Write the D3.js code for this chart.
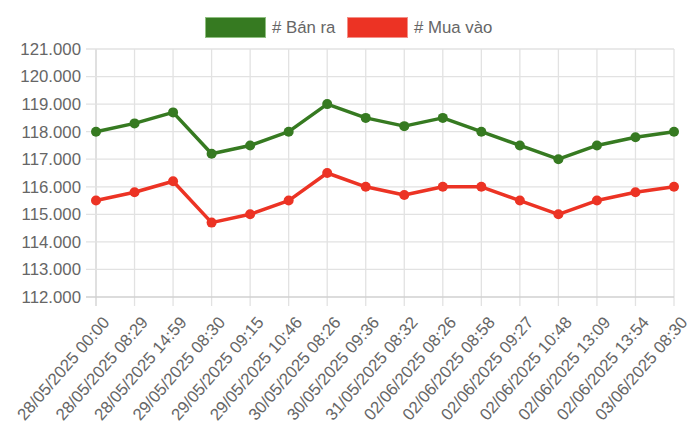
<!DOCTYPE html>
<html><head><meta charset="utf-8">
<script src="https://cdn.jsdelivr.net/npm/d3@7"></script>
<style>
html,body{margin:0;padding:0;background:#fff;}
svg{display:block;font-family:Helvetica, Arial, "Liberation Sans", sans-serif;}
</style></head>
<body>
<svg id="chart" width="700" height="442"></svg>
<script>
const labels = ["28/05/2025 00:00","28/05/2025 08:29","28/05/2025 14:59","29/05/2025 08:30","29/05/2025 09:15","29/05/2025 10:46","30/05/2025 08:26","30/05/2025 09:36","31/05/2025 08:32","02/06/2025 08:26","02/06/2025 08:58","02/06/2025 09:27","02/06/2025 10:48","02/06/2025 13:09","02/06/2025 13:54","03/06/2025 08:30"];
const banRa = [118000,118300,118700,117200,117500,118000,119000,118500,118200,118500,118000,117500,117000,117500,117800,118000];
const muaVao = [115500,115800,116200,114700,115000,115500,116500,116000,115700,116000,116000,115500,115000,115500,115800,116000];
const yTicks = [112000,113000,114000,115000,116000,117000,118000,119000,120000,121000];
const seriesNames = ["# Bán ra","# Mua vào"];
const seriesColors = ["#367a21","#ec3324"];

(function(){
const svg = d3.select("#chart");
const pL = 96, pR = 674, pT = 49, pB = 297;
const x = d3.scalePoint().domain(labels).range([pL, pR]);
const y = d3.scaleLinear().domain([112000, 121000]).range([pB, pT]);
const fmt = v => d3.format(",")(v).replace(/,/g, ".");
const fontSize = 16.8;

// grid
const g = svg.append("g");
g.selectAll("line.vg").data(labels).join("line")
  .attr("x1", d => x(d)).attr("x2", d => x(d))
  .attr("y1", pT).attr("y2", pB + 9)
  .attr("stroke", (d,i) => i === 0 ? "#d0d0d0" : "#e2e2e2").attr("stroke-width", 1.3);
g.selectAll("line.hg").data(yTicks).join("line")
  .attr("x1", pL - 10).attr("x2", pR)
  .attr("y1", d => y(d)).attr("y2", d => y(d))
  .attr("stroke", (d,i) => i === 0 ? "#d0d0d0" : "#e2e2e2").attr("stroke-width", 1.3);

// y labels
svg.append("g").selectAll("text").data(yTicks).join("text")
  .attr("x", 81).attr("y", d => y(d)).attr("dy", "0.35em")
  .attr("text-anchor", "end").attr("fill", "#666").attr("font-size", fontSize)
  .text(fmt);

// x labels
svg.append("g").selectAll("text").data(labels).join("text")
  .attr("transform", d => `translate(${x(d) + 10},${319}) rotate(-49)`)
  .attr("text-anchor", "end").attr("dy", "0.35em")
  .attr("fill", "#666").attr("font-size", fontSize)
  .text(d => d);

// series
const line = d3.line().x((d,i) => x(labels[i])).y(d => y(d));
[banRa, muaVao].forEach((s, k) => {
  svg.append("path").datum(s).attr("d", line)
    .attr("fill", "none").attr("stroke", seriesColors[k]).attr("stroke-width", 3.5)
    .attr("stroke-linejoin", "round");
  svg.append("g").selectAll("circle").data(s).join("circle")
    .attr("cx", (d,i) => x(labels[i])).attr("cy", d => y(d)).attr("r", 5)
    .attr("fill", seriesColors[k]);
});

// legend
const legendX = [205, 347];
seriesNames.forEach((n, k) => {
  svg.append("rect").attr("x", legendX[k] + 0.5).attr("y", 17.5).attr("width", 60).attr("height", 20)
    .attr("fill", seriesColors[k]).attr("stroke", k === 0 ? "#8fbf80" : "#f39088").attr("stroke-width", 1);
  svg.append("text").attr("x", legendX[k] + 67).attr("y", 27.5).attr("dy", "0.35em")
    .attr("fill", "#666").attr("font-size", fontSize).text(n);
});
})();
</script>
</body></html>
